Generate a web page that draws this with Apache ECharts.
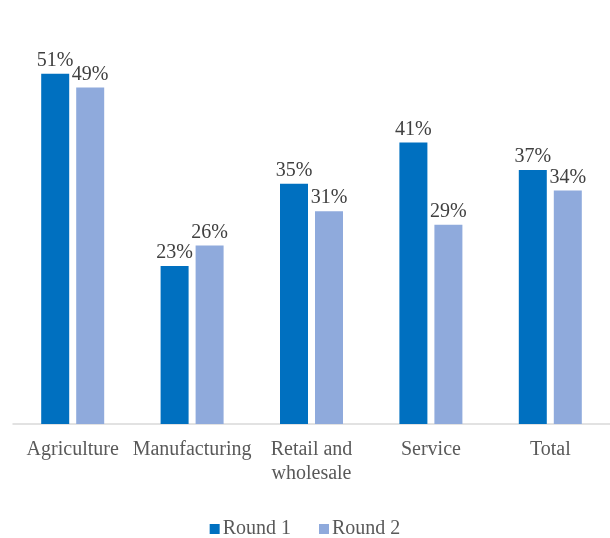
<!DOCTYPE html>
<html><head><meta charset="utf-8">
<script src="https://cdn.jsdelivr.net/npm/echarts@6/dist/echarts.min.js"></script>
<style>html,body{margin:0;padding:0;background:#fff}#c{width:610px;height:538px}</style>
</head><body><div id="c"></div>
<script>
const categories = ['Agriculture', 'Manufacturing', 'Retail and\nwholesale', 'Service', 'Total'];
const round1 = [51, 23, 35, 41, 37];
const round2 = [49, 26, 31, 29, 34];
const seriesNames = ['Round 1', 'Round 2'];

const font = 'Liberation Serif';
const chart = echarts.init(document.getElementById('c'));
const lbl = {show: true, position: 'top', distance: 3, formatter: '{c}%', color: '#404040', fontFamily: font, fontSize: 20};
chart.setOption({
  animation: false,
  grid: {left: 13, right: 0, top: 12, bottom: 114},
  legend: {
    top: 514, left: 'center', itemWidth: 10, itemHeight: 10, itemGap: 28,
    icon: 'rect',
    textStyle: {color: '#595959', fontFamily: font, fontSize: 20, padding: [0, 0, 0, -2]},
    data: seriesNames
  },
  xAxis: {
    type: 'category', data: categories,
    axisLine: {lineStyle: {color: '#d9d9d9', width: 1.5}},
    axisTick: {show: false},
    axisLabel: {color: '#595959', fontFamily: font, fontSize: 20, margin: 14, lineHeight: 24, interval: 0}
  },
  yAxis: {type: 'value', min: 0, max: 60, show: false, splitLine: {show: false}},
  series: [
    {name: seriesNames[0], type: 'bar', data: round1, barWidth: 28, barGap: '25%', itemStyle: {color: '#0070c0'}, label: lbl},
    {name: seriesNames[1], type: 'bar', data: round2, barWidth: 28, itemStyle: {color: '#8faadc'}, label: lbl}
  ]
});
</script></body></html>
